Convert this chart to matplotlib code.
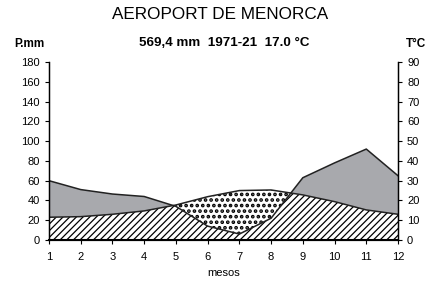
import numpy as np
import matplotlib.pyplot as plt

plt.rcParams['font.family'] = ['Liberation Sans', 'DejaVu Sans']

# climate normals
months = [1, 2, 3, 4, 5, 6, 7, 8, 9, 10, 11, 12]
precip = [60, 51, 46.5, 44, 34, 14, 6, 22, 63, 78, 92, 65]
temp = [11.5, 11.8, 13.0, 14.7, 17.7, 21.9, 25.0, 25.3, 22.8, 19.4, 15.2, 13.0]

x = np.array(months)
p = np.array(precip)
t2 = np.array(temp) * 2  # temperature on the precipitation scale

fig = plt.figure(figsize=(4.35, 2.81), dpi=100)
ax = fig.add_axes([0.1126, 0.146, 0.8024, 0.633])

# hatched area below the temperature line
with plt.rc_context({'hatch.linewidth': 0.9, 'hatch.color': 'black'}):
    ax.fill_between(x, 0, t2, facecolor='white', edgecolor='black',
                    hatch='/////', linewidth=0)

# dry period (temperature above precipitation)
with plt.rc_context({'hatch.linewidth': 1.8, 'hatch.color': 'black'}):
    ax.fill_between(x, p, t2, where=t2 > p, interpolate=True,
                    facecolor='white', edgecolor='black', hatch='...',
                    linewidth=0)

# humid period
ax.fill_between(x, p, t2, where=p >= t2, interpolate=True,
                facecolor='#a8a9ad', linewidth=0)

ax.plot(x, p, color='#222222', lw=1.1)
ax.plot(x, t2, color='#222222', lw=1.1)

ax.set_xlim(1, 12)
ax.set_ylim(0, 180)
ax.set_xticks(months)
ax.set_yticks(range(0, 181, 20))
ax.tick_params(labelsize=8, length=3, width=0.8)
ax.tick_params(axis='x', pad=6)
ax.spines['top'].set_visible(False)
ax.spines['bottom'].set_linewidth(1.5)
ax.spines['left'].set_linewidth(1.0)
ax.spines['right'].set_linewidth(1.0)
ax.set_xlabel('mesos', fontsize=8, labelpad=4)

ax2 = ax.twinx()
ax2.set_ylim(0, 90)
ax2.set_yticks(range(0, 91, 10))
ax2.tick_params(labelsize=8, length=3, width=0.8)
ax2.spines['top'].set_visible(False)

fig.text(0.506, 0.95, 'AEROPORT DE MENORCA', ha='center', va='center', fontsize=12.3)
fig.text(0.515, 0.847, '569,4 mm  1971-21  17.0 °C', ha='center', va='center',
         fontsize=9.6, fontweight='bold')
fig.text(0.067, 0.843, 'P.mm', ha='center', va='center', fontsize=8.5, fontweight='bold')
fig.text(0.957, 0.843, 'T°C', ha='center', va='center', fontsize=8.5, fontweight='bold')

fig.savefig('out.png', dpi=100)
